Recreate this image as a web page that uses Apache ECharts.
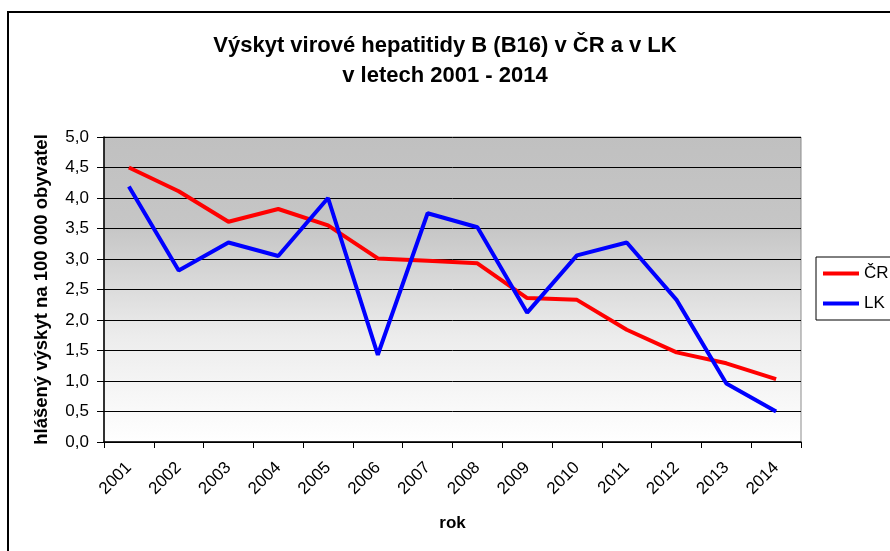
<!DOCTYPE html>
<html>
<head>
<meta charset="utf-8">
<script src="https://cdn.jsdelivr.net/npm/echarts@6/dist/echarts.min.js"></script>
<style>
  html, body { margin: 0; padding: 0; background: #ffffff; }
  #chart { width: 890px; height: 551px; }
</style>
</head>
<body>
<div id="chart"></div>
<script>
// Hlášený výskyt virové hepatitidy B na 100 000 obyvatel
const years = ['2001', '2002', '2003', '2004', '2005', '2006', '2007',
               '2008', '2009', '2010', '2011', '2012', '2013', '2014'];
const cr = [4.50, 4.11, 3.61, 3.82, 3.55, 3.01, 2.97, 2.93, 2.36, 2.33, 1.84, 1.47, 1.29, 1.03];
const lk = [4.19, 2.81, 3.27, 3.05, 4.00, 1.43, 3.75, 3.52, 2.12, 3.06, 3.27, 2.33, 0.96, 0.50];
const yTicks = [0, 0.5, 1, 1.5, 2, 2.5, 3, 3.5, 4, 4.5, 5];

const font = 'Liberation Sans, Arial, sans-serif';
const chart = echarts.init(document.getElementById('chart'), null, { renderer: 'canvas' });

chart.setOption({
  animation: false,
  backgroundColor: '#ffffff',
  textStyle: { fontFamily: font, color: '#000000' },
  title: {
    text: 'Výskyt virové hepatitidy B (B16) v ČR a v LK\nv letech 2001 - 2014',
    left: 'center',
    top: 26,
    textStyle: { fontFamily: font, fontSize: 22, fontWeight: 'bold', color: '#000000', lineHeight: 30 }
  },
  graphic: [{
    type: 'rect',
    shape: { x: 8, y: 12, width: 900, height: 560 },
    style: { fill: 'none', stroke: '#000000', lineWidth: 2 },
    silent: true,
    z: 0
  }],
  legend: {
    orient: 'vertical',
    left: 816,
    top: 257,
    padding: [8, 7, 8, 7],
    itemGap: 13,
    itemWidth: 36,
    itemHeight: 4,
    icon: 'rect',
    borderColor: '#000000',
    borderWidth: 1,
    backgroundColor: '#ffffff',
    textStyle: { fontFamily: font, fontSize: 17, color: '#000000' },
    data: ['ČR', 'LK']
  },
  grid: {
    left: 104, right: 89, top: 137, bottom: 109,
    show: true,
    borderColor: '#8c8c8c',
    borderWidth: 1,
    backgroundColor: {
      type: 'linear', x: 0, y: 0, x2: 0, y2: 1,
      colorStops: [
        { offset: 0, color: '#c0c0c0' },
        { offset: 0.3, color: '#c6c6c6' },
        { offset: 0.65, color: '#ececec' },
        { offset: 1, color: '#ffffff' }
      ]
    }
  },
  xAxis: {
    type: 'category',
    data: years,
    boundaryGap: true,
    name: 'rok',
    nameLocation: 'middle',
    nameGap: 73,
    nameTextStyle: { fontFamily: font, fontSize: 17, fontWeight: 'bold', color: '#000000' },
    axisLine: { lineStyle: { color: '#000000', width: 1.5 } },
    axisTick: { show: true, inside: false, length: 6, alignWithLabel: false, lineStyle: { color: '#000000' } },
    axisLabel: { rotate: 45, margin: 23, fontFamily: font, fontSize: 17, color: '#000000', interval: 0 },
    splitLine: { show: false }
  },
  yAxis: {
    type: 'value',
    min: 0,
    max: 5,
    interval: 0.5,
    name: 'hlášený výskyt na 100 000 obyvatel',
    nameLocation: 'middle',
    nameGap: 53,
    nameRotate: 90,
    nameTextStyle: { fontFamily: font, fontSize: 18.5, fontWeight: 'bold', color: '#000000' },
    axisLine: { show: true, lineStyle: { color: '#000000', width: 1.5 } },
    axisTick: { show: true, inside: false, length: 7, lineStyle: { color: '#000000' } },
    axisLabel: {
      fontFamily: font, fontSize: 17, color: '#000000', margin: 15,
      formatter: v => yTicks.includes(v) ? v.toFixed(1).replace('.', ',') : ''
    },
    splitLine: { show: true, lineStyle: { color: '#000000', width: 1 } }
  },
  series: [
    {
      name: 'ČR',
      type: 'line',
      data: cr,
      symbol: 'none',
      color: '#ff0000',
      lineStyle: { color: '#ff0000', width: 4 },
      z: 3
    },
    {
      name: 'LK',
      type: 'line',
      data: lk,
      symbol: 'none',
      color: '#0000ff',
      lineStyle: { color: '#0000ff', width: 4 },
      z: 4
    }
  ]
});
</script>
</body>
</html>
